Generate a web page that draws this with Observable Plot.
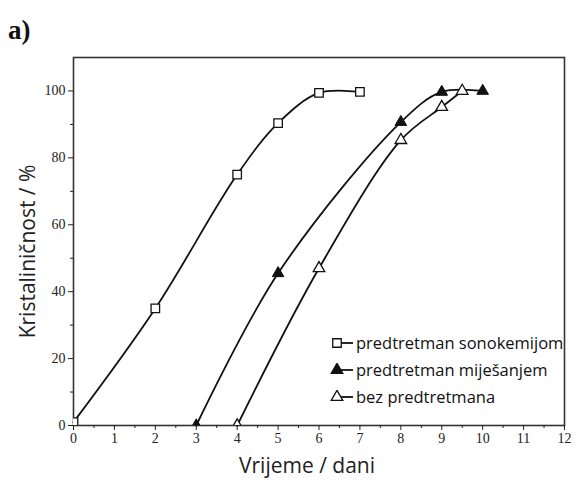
<!DOCTYPE html>
<html>
<head>
<meta charset="utf-8">
<script src="https://cdn.jsdelivr.net/npm/d3@7"></script>
<script src="https://cdn.jsdelivr.net/npm/@observablehq/plot@0.6"></script>
<style>
  html, body { margin: 0; padding: 0; background: #fff; }
  #wrap { position: relative; width: 576px; height: 486px; overflow: hidden; }
  #panel { position: absolute; left: 8px; top: 15px; font: bold 27px "Liberation Serif", serif; color: #111; }
  #legend { position: absolute; left: 330px; top: 329px; font: 16.5px "Open Sans", sans-serif; color: #111; }
  #legend .row { display: flex; align-items: center; height: 27px; white-space: nowrap; }
  #legend svg { margin-right: 2px; }
</style>
</head>
<body>
<div id="wrap">
  <div id="chart"></div>
  <div id="panel">a)</div>
  <div id="legend"></div>
</div>
<script>
// Series: predtretman sonokemijom (open squares)
const sonoX = [0, 2, 4, 5, 6, 7];
const sonoY = [1, 35, 75, 90.4, 99.4, 99.7];
// Series: predtretman miješanjem (filled triangles)
const mijX = [3, 5, 8, 9, 10];
const mijY = [0, 45.5, 90.7, 99.7, 100];
// Series: bez predtretmana (open triangles)
const bezX = [4, 6, 8, 9, 9.5];
const bezY = [0, 47, 85.3, 95.2, 100];

const seriesNames = ["predtretman sonokemijom", "predtretman miješanjem", "bez predtretmana"];
const xTicks = [0, 1, 2, 3, 4, 5, 6, 7, 8, 9, 10, 11, 12];
const xMinor = [0.5, 1.5, 2.5, 3.5, 4.5, 5.5, 6.5, 7.5, 8.5, 9.5, 10.5, 11.5];
const yTicks = [0, 20, 40, 60, 80, 100];
const yMinor = [10, 30, 50, 70, 90];
const xTitle = "Vrijeme / dani";
const yTitle = "Kristaliničnost / %";

const toRows = (xs, ys) => xs.map((x, i) => ({x, y: ys[i]}));
const sono = toRows(sonoX, sonoY);
const mij = toRows(mijX, mijY);
const bez = toRows(bezX, bezY);

const tickFont = {fontFamily: "Liberation Serif", fontSize: 14};
const curve = "catmull-rom";
const chart = Plot.plot({
  width: 576,
  height: 486,
  marginTop: 57,
  marginLeft: 73,
  marginRight: 12,
  marginBottom: 61,
  style: {background: "white", color: "#222"},
  x: {domain: [0, 12]},
  y: {domain: [0, 110]},
  marks: [
    Plot.frame({stroke: "#333", strokeWidth: 1.6}),
    Plot.axisX(xTicks, {tickSize: 5, tickPadding: 3, label: null, ...tickFont}),
    Plot.axisX(xMinor, {tickSize: 3, tickFormat: () => "", label: null}),
    Plot.axisY(yTicks, {tickSize: 5, tickPadding: 3, label: null, ...tickFont}),
    Plot.axisY(yMinor, {tickSize: 3, tickFormat: () => "", label: null}),
    Plot.line(sono, {x: "x", y: "y", curve, stroke: "#111", strokeWidth: 1.8}),
    Plot.line(mij, {x: "x", y: "y", curve, stroke: "#111", strokeWidth: 1.8}),
    Plot.line(bez, {x: "x", y: "y", curve, stroke: "#111", strokeWidth: 1.8}),
    Plot.dot(sono, {x: "x", y: "y", symbol: "square", r: 4.8, fill: "white", stroke: "#111", strokeWidth: 1.3, clip: true}),
    Plot.dot(mij, {x: "x", y: "y", symbol: "triangle", r: 4.3, fill: "#111", stroke: "#111", strokeWidth: 1, clip: true}),
    Plot.dot(bez, {x: "x", y: "y", symbol: "triangle", r: 4.3, fill: "white", stroke: "#111", strokeWidth: 1.3, clip: true}),
    Plot.text([xTitle], {frameAnchor: "bottom", lineAnchor: "middle", textAnchor: "middle", dy: 41, dx: -12, fontFamily: "Open Sans", fontSize: 21, fill: "#222"}),
    Plot.text([yTitle], {frameAnchor: "left", lineAnchor: "middle", textAnchor: "middle", rotate: -90, dx: -45, dy: 10, fontFamily: "Open Sans", fontSize: 21, fill: "#222"})
  ]
});
document.getElementById("chart").appendChild(chart);

// Legend
const symbols = [
  {path: d3.symbol(d3.symbolSquare, 72)(), fill: "white"},
  {path: d3.symbol(d3.symbolTriangle, 58)(), fill: "#111"},
  {path: d3.symbol(d3.symbolTriangle, 58)(), fill: "white"}
];
const legend = document.getElementById("legend");
seriesNames.forEach((name, i) => {
  const row = document.createElement("div");
  row.className = "row";
  row.innerHTML = `<svg width="24" height="14"><line x1="6" y1="7" x2="23" y2="7" stroke="#111" stroke-width="1.8"/><path transform="translate(7,7)" d="${symbols[i].path}" fill="${symbols[i].fill}" stroke="#111" stroke-width="1.3"/></svg><span>${name}</span>`;
  legend.appendChild(row);
});
</script>
</body>
</html>
